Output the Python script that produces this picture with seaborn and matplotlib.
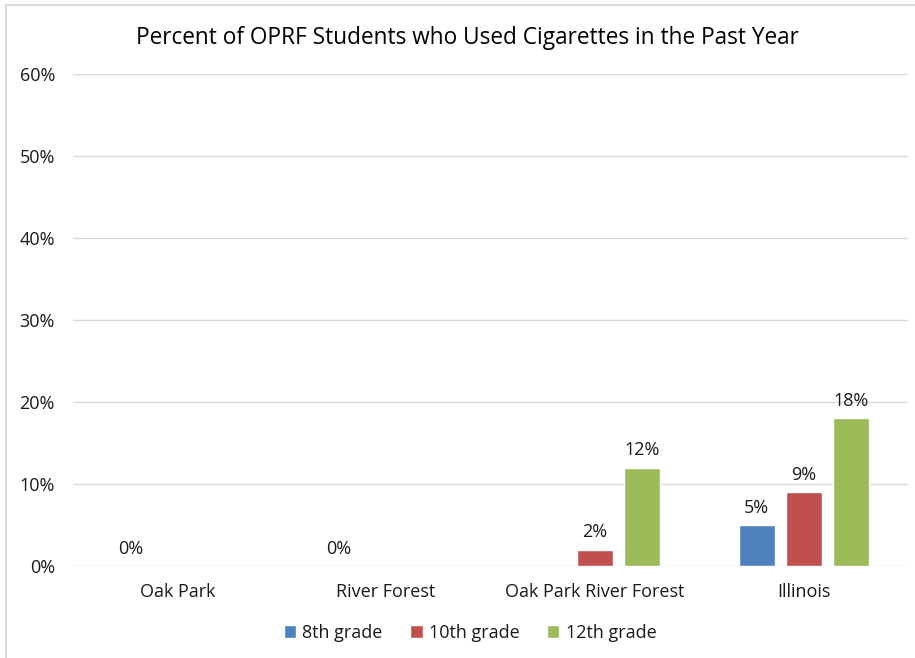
import numpy as np
import pandas as pd
import matplotlib
matplotlib.use("Agg")
import matplotlib.pyplot as plt
import seaborn as sns
from matplotlib.lines import Line2D

categories = ["Oak Park", "River Forest", "Oak Park River Forest", "Illinois"]
series = ["8th grade", "10th grade", "12th grade"]
grade8 = [0, 0, np.nan, 5]
grade10 = [np.nan, np.nan, 2, 9]
grade12 = [np.nan, np.nan, 12, 18]
colors = ["#4F81BD", "#C0504D", "#9BBB59"]
yticks = [0, 10, 20, 30, 40, 50, 60]

rows = []
for s, vals in zip(series, [grade8, grade10, grade12]):
    for c, v in zip(categories, vals):
        rows.append({"Area": c, "Grade": s, "Value": v})
df = pd.DataFrame(rows)

sns.set_theme(style="white")
plt.rcParams["font.family"] = ["Open Sans", "DejaVu Sans"]

fig = plt.figure(figsize=(9.15, 6.58), dpi=100)
ax = fig.add_axes([73/915, 1-566/658, 835/915, (566-74)/658])

sns.barplot(data=df, x="Area", y="Value", hue="Grade", order=categories,
            hue_order=series, palette=colors, width=0.675, gap=0.234,
            saturation=1, ax=ax, legend=True)

ax.set_ylim(0, 60)
ax.set_xlim(-0.5, 3.5)
ax.set_yticks(yticks)
ax.set_yticklabels([f"{t}%" for t in yticks])
ax.grid(axis="y", color="#D9D9D9", linewidth=1)
ax.set_axisbelow(True)
for sp in ax.spines.values():
    sp.set_visible(False)
ax.set_xlabel("")
ax.set_ylabel("")
ax.tick_params(axis="y", length=0, pad=13, labelsize=13, labelcolor="#1A1A1A")
ax.tick_params(axis="x", length=0, pad=12, labelsize=13, labelcolor="#1A1A1A")

slot = 0.675 / 3
for i, (s, vals) in enumerate(zip(series, [grade8, grade10, grade12])):
    for j, v in enumerate(vals):
        if np.isnan(v):
            continue
        x = j + (i - 1) * slot
        ax.text(x, v + 1.0, f"{v:g}%", ha="center", va="bottom",
                fontsize=13, color="#1A1A1A")

fig.text(467/915, 1-38/658, "Percent of OPRF Students who Used Cigarettes in the Past Year",
         ha="center", va="center", fontsize=16.3, color="#000000")

handles, labels = ax.get_legend_handles_labels()
ax.legend_.remove()
fig.legend(handles, labels, loc="center", bbox_to_anchor=(470/915, 1-633/658),
           ncol=3, frameon=False, fontsize=13, handlelength=0.7, handleheight=0.7,
           handletextpad=0.35, columnspacing=1.5, labelcolor="#1A1A1A")

fig.add_artist(Line2D([6/915, 6/915], [0, 1-5/658], transform=fig.transFigure,
                      color="#D9D9D9", linewidth=1.5))
fig.add_artist(Line2D([6/915, 1], [1-5/658, 1-5/658], transform=fig.transFigure,
                      color="#D9D9D9", linewidth=1.5))

fig.savefig("out.png", dpi=100)
